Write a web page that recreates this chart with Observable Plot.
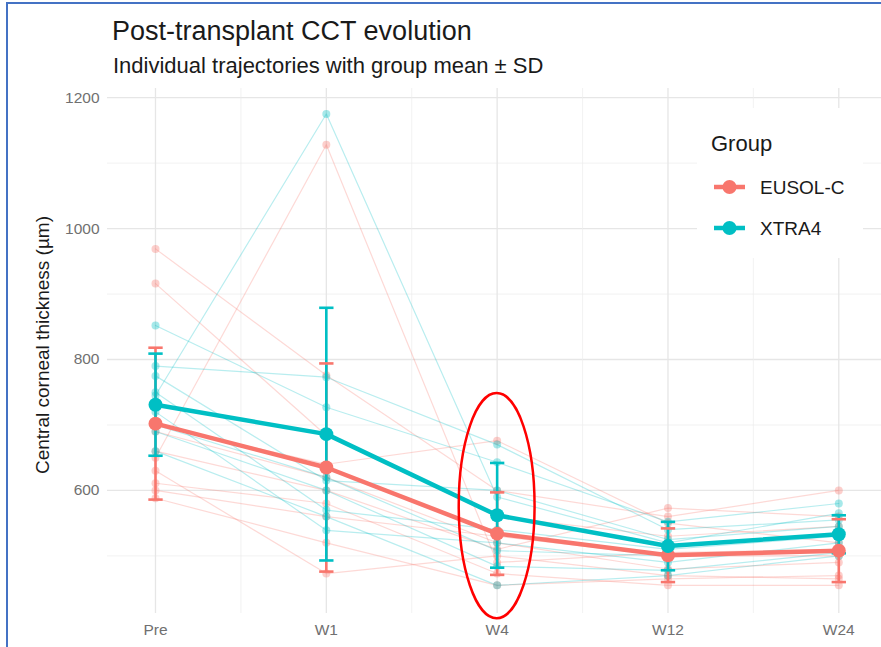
<!DOCTYPE html>
<html><head><meta charset="utf-8">
<script src="https://cdn.jsdelivr.net/npm/d3@7"></script>
<script src="https://cdn.jsdelivr.net/npm/@observablehq/plot@0.6"></script>
<style>
body{margin:0;background:#fff;}
#wrap{position:relative;width:881px;height:647px;overflow:hidden;font-family:"Liberation Sans",Arial,sans-serif;background:#fff;}
#frame{position:absolute;left:6px;top:2px;width:900px;height:700px;border-left:2px solid #4472C4;border-top:2px solid #4472C4;pointer-events:none;}
#title{position:absolute;left:112px;top:18px;font-size:27px;line-height:1;color:#1a1a1a;white-space:nowrap;}
#subtitle{position:absolute;left:113px;top:55px;font-size:22px;line-height:1;color:#1a1a1a;white-space:nowrap;}
#ylab{position:absolute;left:42px;top:345px;font-size:19px;line-height:1;color:#1a1a1a;white-space:nowrap;transform:translate(-50%,-50%) rotate(-90deg);}
#chart{position:absolute;left:0;top:0;}
</style></head>
<body>
<div id="wrap">
  <div id="chart"></div>
  <div id="title">Post-transplant CCT evolution</div>
  <div id="subtitle">Individual trajectories with group mean ± SD</div>
  <div id="ylab">Central corneal thickness (µm)</div>
  <div id="frame"></div>
</div>
<script>
// ---- data ----
const categories = ["Pre", "W1", "W4", "W12", "W24"];
const groups = ["EUSOL-C", "XTRA4"];
const groupColors = ["#F8766D", "#00BFC4"];

// individual trajectories (µm), one array per eye, values at Pre, W1, W4, W12, W24
const eusolSubjects = [
  [969, 776, 600, 560, 600],
  [916, 684, 560, 530, 545],
  [650, 1128, 490, 505, 510],
  [700, 640, 676, 550, 520],
  [690, 620, 520, 480, 490],
  [660, 600, 510, 573, 560],
  [630, 473, 500, 470, 465],
  [611, 580, 473, 455, 455],
  [600, 560, 530, 500, 500],
  [588, 520, 455, 465, 470]
];
const xtraSubjects = [
  [852, 727, 643, 552, 580],
  [745, 1175, 590, 520, 565],
  [790, 773, 670, 540, 555],
  [775, 615, 600, 525, 545],
  [750, 570, 540, 510, 530],
  [720, 539, 520, 490, 520],
  [700, 620, 508, 500, 510],
  [690, 600, 484, 478, 505],
  [660, 560, 455, 470, 500]
];

// group mean and SD
const eusolMean = [702, 635, 534, 501, 508];
const eusolSD   = [116, 159, 63, 41, 48];
const xtraMean  = [731, 686, 562, 515, 533];
const xtraSD    = [78, 193, 80, 37, 29];

const yMajor = [600, 800, 1000, 1200];
const yMinor = [500, 700, 900, 1100];
const xMinor = [0.5, 1.5, 2.5, 3.5];

// highlighted region (annotation) around W4
const highlight = {cat: "W4", center: 576, low: 404, high: 748, halfWidth: 0.222};

// ---- build tables ----
const indiv = [];
[[eusolSubjects, groups[0]], [xtraSubjects, groups[1]]].forEach(([subs, g]) => {
  subs.forEach((vals, i) => vals.forEach((v, j) => indiv.push({id: g + i, group: g, t: j, v})));
});
const means = [];
[[eusolMean, eusolSD, groups[0]], [xtraMean, xtraSD, groups[1]]].forEach(([m, s, g]) => {
  m.forEach((v, j) => means.push({group: g, t: j, mean: v, lo: v - s[j], hi: v + s[j]}));
});
const capHalf = 0.042;

const chart = Plot.plot({
  width: 881,
  height: 647,
  marginTop: 88,
  marginBottom: 34,
  marginLeft: 107,
  marginRight: 0,
  style: {fontFamily: "Liberation Sans, Arial, sans-serif", fontSize: "15.5px", color: "#707070", background: "transparent", overflow: "visible"},
  x: {type: "linear", domain: [-0.281, 4.25], ticks: [0, 1, 2, 3, 4], tickFormat: i => categories[i], tickSize: 0, tickPadding: 10, label: null},
  y: {domain: [412, 1214], ticks: yMajor, tickFormat: d => String(d), tickSize: 0, tickPadding: 8, label: null},
  color: {domain: groups, range: groupColors},
  marks: [
    Plot.ruleY(yMinor, {stroke: "#EDEDED", strokeWidth: 0.7}),
    Plot.ruleY(yMajor, {stroke: "#E6E6E6", strokeWidth: 1.3}),
    Plot.ruleX(xMinor, {stroke: "#EDEDED", strokeWidth: 0.7}),
    Plot.ruleX([0, 1, 2, 3, 4], {stroke: "#E6E6E6", strokeWidth: 1.3}),
    Plot.line(indiv, {x: "t", y: "v", z: "id", stroke: "group", strokeOpacity: 0.28, strokeWidth: 1.2}),
    Plot.dot(indiv, {x: "t", y: "v", fill: "group", fillOpacity: 0.35, r: 4, stroke: "none"}),
    Plot.ruleX(means, {x: "t", y1: "lo", y2: "hi", stroke: "group", strokeWidth: 2.6}),
    Plot.link(means, {x1: d => d.t - capHalf, x2: d => d.t + capHalf, y1: "lo", y2: "lo", stroke: "group", strokeWidth: 2.6}),
    Plot.link(means, {x1: d => d.t - capHalf, x2: d => d.t + capHalf, y1: "hi", y2: "hi", stroke: "group", strokeWidth: 2.6}),
    Plot.line(means, {x: "t", y: "mean", z: "group", stroke: "group", strokeWidth: 4.5}),
    Plot.dot(means, {x: "t", y: "mean", fill: "group", r: 7, stroke: "none"})
  ]
});
document.getElementById("chart").appendChild(chart);

// red highlight ellipse, placed with the chart's own scales
const xs = chart.scale("x"), ys = chart.scale("y");
const hx = categories.indexOf(highlight.cat);
const ns = "http://www.w3.org/2000/svg";
const ell = document.createElementNS(ns, "ellipse");
ell.setAttribute("cx", xs.apply(hx));
ell.setAttribute("cy", ys.apply(highlight.center));
ell.setAttribute("rx", xs.apply(hx + highlight.halfWidth) - xs.apply(hx));
ell.setAttribute("ry", (ys.apply(highlight.low) - ys.apply(highlight.high)) / 2);
ell.setAttribute("fill", "none");
ell.setAttribute("stroke", "#FF0000");
ell.setAttribute("stroke-width", 2.5);
chart.appendChild(ell);

// legend (inside panel, top right)
const color = chart.scale("color");
const lg = document.createElementNS(ns, "g");
lg.setAttribute("font-family", "Liberation Sans, Arial, sans-serif");
lg.setAttribute("text-anchor", "start");
const bg = document.createElementNS(ns, "rect");
bg.setAttribute("x", 697); bg.setAttribute("y", 108); bg.setAttribute("width", 166); bg.setAttribute("height", 150);
bg.setAttribute("fill", "#fff");
lg.appendChild(bg);
const lt = document.createElementNS(ns, "text");
lt.setAttribute("x", 711); lt.setAttribute("y", 151); lt.setAttribute("font-size", 22); lt.setAttribute("fill", "#1a1a1a");
lt.textContent = "Group";
lg.appendChild(lt);
groups.forEach((g, i) => {
  const cy = 187 + i * 41;
  const c = color.apply(g);
  const ln = document.createElementNS(ns, "line");
  ln.setAttribute("x1", 714); ln.setAttribute("x2", 745); ln.setAttribute("y1", cy); ln.setAttribute("y2", cy);
  ln.setAttribute("stroke", c); ln.setAttribute("stroke-width", 4.5);
  lg.appendChild(ln);
  const dt = document.createElementNS(ns, "circle");
  dt.setAttribute("cx", 729.5); dt.setAttribute("cy", cy); dt.setAttribute("r", 7); dt.setAttribute("fill", c);
  lg.appendChild(dt);
  const tx = document.createElementNS(ns, "text");
  tx.setAttribute("x", 760); tx.setAttribute("y", cy + 7); tx.setAttribute("font-size", 19); tx.setAttribute("fill", "#1a1a1a");
  tx.textContent = g;
  lg.appendChild(tx);
});
chart.appendChild(lg);
</script>
</body></html>
